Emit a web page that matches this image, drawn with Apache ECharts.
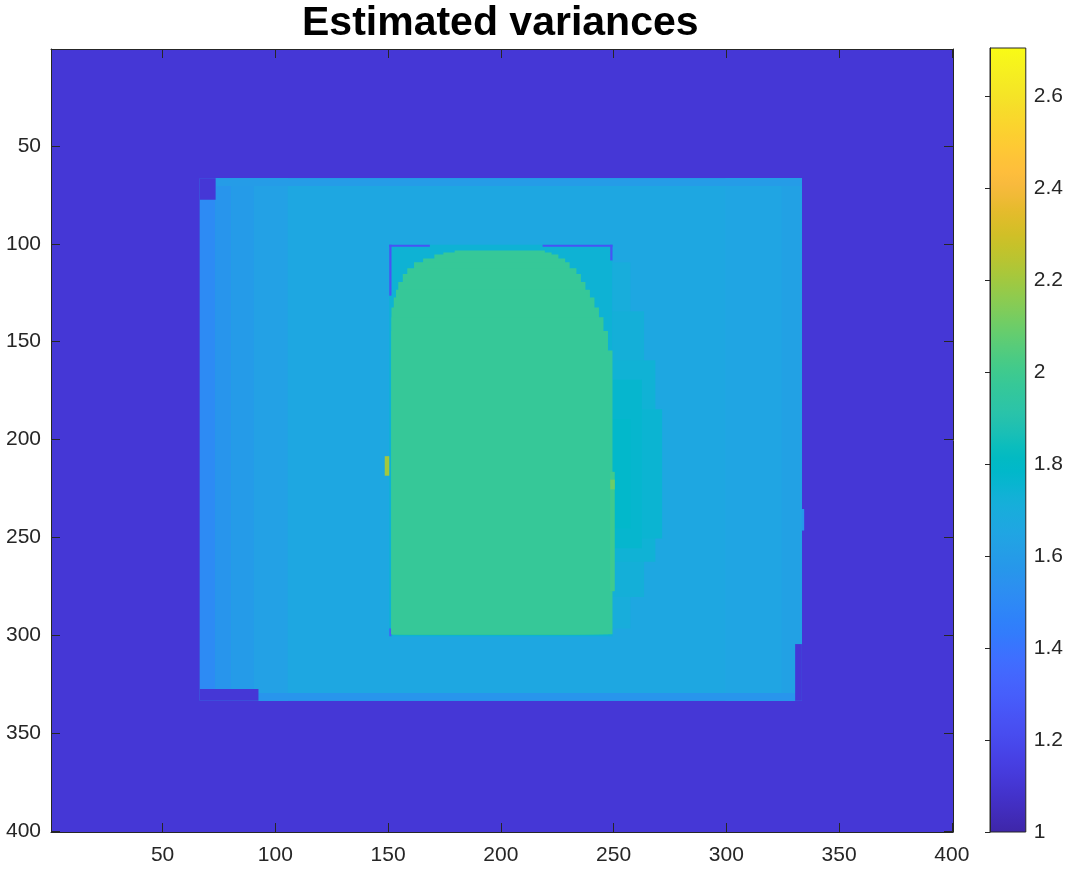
<!DOCTYPE html>
<html>
<head>
<meta charset="utf-8">
<script src="https://cdn.jsdelivr.net/npm/echarts@6/dist/echarts.min.js"></script>
<style>html,body{margin:0;padding:0;background:#fff}#c{width:1066px;height:872px}</style>
</head>
<body>
<div id="c"></div>
<script>
// ---- data ----
const titleText = 'Estimated variances';
const xTicks = [50, 100, 150, 200, 250, 300, 350, 400];
const yTicks = [50, 100, 150, 200, 250, 300, 350, 400];
const cbarTicks = [1, 1.2, 1.4, 1.6, 1.8, 2, 2.2, 2.4, 2.6];
const cbarRange = [1, 2.704];
const imageSize = 400;
const backgroundValue = 1.11;

// rectangular regions [col1, col2, row1, row2, value], painted in order
const outerRegions = [
  [67, 333, 67, 333, 1.66],
  [67, 73, 67, 333, 1.51],
  [74, 80, 67, 333, 1.56],
  [81, 90, 67, 333, 1.595],
  [91, 105, 67, 333, 1.625],
  [300, 333, 67, 333, 1.648],
  [325, 333, 67, 333, 1.63],
  [74, 333, 67, 70, 1.60],
  [93, 330, 330, 333, 1.56],
  [67, 73, 67, 77, 1.11],
  [67, 92, 328, 333, 1.11],
  [331, 333, 305, 333, 1.11],
  [334, 334, 236, 246, 1.58]
];
const innerFrame = [[151, 249, 101, 300, 1.74]];
const frameEdges = [
  [151, 168, 101, 101, 1.25],
  [219, 249, 101, 101, 1.25],
  [151, 151, 101, 126, 1.25],
  [249, 249, 101, 108, 1.25],
  [151, 151, 297, 300, 1.30]
];
// crescent to the right of the inner block: [row1, row2, lastCol, value]
const crescentRows = [
  [110, 296, 257, 1.70],
  [135, 280, 263, 1.72],
  [160, 262, 268, 1.735],
  [185, 250, 271, 1.75],
  [170, 255, 262, 1.765],
  [190, 245, 257, 1.78]
];
// green dome: [topRow, col1, col2], each runs down to greenBottom
const greenRows = [
  [104, 180, 219],
  [105, 175, 222],
  [106, 171, 225],
  [108, 166, 228],
  [110, 162, 230],
  [113, 159, 233],
  [116, 157, 235],
  [120, 155, 237],
  [124, 154, 239],
  [128, 153, 241],
  [133, 152, 243],
  [138, 152, 245],
  [145, 152, 247],
  [155, 152, 249]
];
const greenValue = 1.97;
const greenBottom = 299;
const spots = [
  [249, 250, 217, 277, 2.00],
  [249, 250, 221, 225, 2.10],
  [149, 150, 209, 218, 2.20]
];

const parula = ['#3e26a8','#402ab4','#422ec0','#4332cb','#4537d5','#463cde','#4741e5','#4747eb','#484df0','#4852f4','#4758f8','#465efb','#4563fd','#4269fe','#3e6fff','#3875fe','#327cfc','#2f81fa','#2e87f7','#2d8cf3','#2b91ef','#2796eb','#259be8','#23a0e5','#20a5e3','#1ca9df','#18addb','#12b1d6','#08b5d0','#01b8ca','#02bac3','#0bbdbd','#19bfb6','#24c1ae','#2cc4a7','#31c69f','#37c897','#3fca8e','#4acb84','#57cc7a','#64cd6f','#72cd64','#81cc59','#8fcb4e','#9dc943','#abc739','#b9c431','#c5c22a','#d1bf27','#dcbd29','#e6bb2d','#f0ba36','#f8ba3d','#febe3c','#fec338','#fec934','#fccf30','#fad62d','#f7dc2a','#f5e327','#f5e924','#f6ef20','#f7f51b','#f9fb15'];

// ---- build cells ----
const cells = [];
cells.push([1, imageSize, 1, imageSize, backgroundValue]);
outerRegions.forEach(r => cells.push(r));
innerFrame.forEach(r => cells.push(r));
crescentRows.forEach(r => cells.push([250, r[2], r[0], r[1], r[3]]));
frameEdges.forEach(r => cells.push(r));
greenRows.forEach(r => cells.push([r[1], r[2], r[0], greenBottom, greenValue]));
spots.forEach(r => cells.push(r));

const chart = echarts.init(document.getElementById('c'), null, {renderer: 'canvas'});
const FONT = 'Liberation Sans, Arial, Helvetica, sans-serif';
const axisColor = '#262626';

function rectItem(params, api) {
  const p1 = api.coord([api.value(0) - 0.5, api.value(2) - 0.5]);
  const p2 = api.coord([api.value(1) + 0.5, api.value(3) + 0.5]);
  return {
    type: 'rect',
    shape: {x: Math.min(p1[0], p2[0]), y: Math.min(p1[1], p2[1]),
            width: Math.abs(p2[0] - p1[0]), height: Math.abs(p2[1] - p1[1])},
    style: {fill: api.visual('color')}
  };
}

const gradStops = parula.map((c, i) => ({offset: i / (parula.length - 1), color: c}));

const mainAxisCommon = {
  type: 'value', min: 0.5, max: imageSize + 0.5, gridIndex: 0, z: 10,
  axisLine: {show: true, lineStyle: {color: axisColor, width: 1}},
  splitLine: {show: false}
};

chart.setOption({
  animation: false,
  graphic: [{
    type: 'text', left: 502 - 200, top: 3, z: 100,
    style: {text: titleText, x: 0, font: 'bold 41px ' + FONT, fill: '#000', width: 400, align: 'center'}
  }],
  grid: [
    {left: 51, top: 49, width: 902, height: 783},
    {left: 990, top: 48, width: 37, height: 784}
  ],
  visualMap: {
    type: 'continuous', show: false, seriesIndex: 0, dimension: 4,
    min: cbarRange[0], max: cbarRange[1], inRange: {color: parula}
  },
  xAxis: [
    Object.assign({}, mainAxisCommon, {
      position: 'bottom',
      axisTick: {show: true, inside: true, length: 9, customValues: xTicks, lineStyle: {color: axisColor}},
      axisLabel: {show: true, customValues: xTicks, fontSize: 21, fontFamily: FONT, color: axisColor, margin: 13}
    }),
    Object.assign({}, mainAxisCommon, {
      position: 'top',
      axisTick: {show: true, inside: true, length: 9, customValues: xTicks, lineStyle: {color: axisColor}},
      axisLabel: {show: false}
    }),
    {type: 'value', gridIndex: 1, min: 0, max: 1, show: false}
  ],
  yAxis: [
    Object.assign({}, mainAxisCommon, {
      position: 'left', inverse: true,
      axisTick: {show: true, inside: true, length: 9, customValues: yTicks, lineStyle: {color: axisColor}},
      axisLabel: {show: true, customValues: yTicks, fontSize: 21, fontFamily: FONT, color: axisColor, margin: 10}
    }),
    Object.assign({}, mainAxisCommon, {
      position: 'right', inverse: true,
      axisTick: {show: true, inside: true, length: 9, customValues: yTicks, lineStyle: {color: axisColor}},
      axisLabel: {show: false}
    }),
    {
      type: 'value', gridIndex: 1, min: cbarRange[0], max: cbarRange[1], position: 'right', z: 10,
      axisLine: {show: true, lineStyle: {color: axisColor, width: 1}},
      axisTick: {show: true, inside: true, length: 5, customValues: cbarTicks, lineStyle: {color: axisColor}},
      axisLabel: {show: true, customValues: cbarTicks, fontSize: 21, fontFamily: FONT, color: axisColor, margin: 8},
      splitLine: {show: false}
    }
  ],
  series: [
    {
      type: 'custom', xAxisIndex: 0, yAxisIndex: 0, clip: true,
      renderItem: rectItem, data: cells,
      encode: {x: [0, 1], y: [2, 3]}
    },
    {
      type: 'custom', xAxisIndex: 2, yAxisIndex: 2, z: 1,
      data: [[0, 1, cbarRange[0], cbarRange[1]]],
      encode: {x: [0, 1], y: [2, 3]},
      renderItem: function (params, api) {
        const p1 = api.coord([api.value(0), api.value(2)]);
        const p2 = api.coord([api.value(1), api.value(3)]);
        return {
          type: 'rect',
          shape: {x: p1[0], y: p2[1], width: p2[0] - p1[0], height: p1[1] - p2[1]},
          style: {fill: new echarts.graphic.LinearGradient(0, 1, 0, 0, gradStops), stroke: axisColor, lineWidth: 1}
        };
      }
    }
  ]
});
</script>
</body>
</html>
